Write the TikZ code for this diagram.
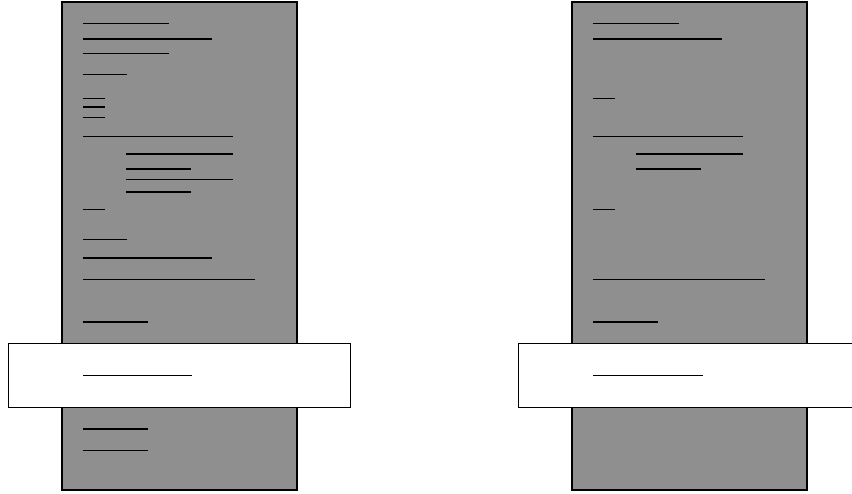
\documentclass[tikz,border=0pt]{standalone}
\definecolor{panelgray}{RGB}{143,143,143}
\tikzset{
  panel/.style={draw=black, fill=panelgray, line width=1.2pt},
  band/.style={draw=black, fill=white, line width=1.2pt},
  txtline/.style={draw=black, line width=1.1pt},
}
\begin{document}
\begin{tikzpicture}[x=1pt,y=-1pt]
\useasboundingbox (0,0) rectangle (852,493);
\clip (0,0) rectangle (852,493);
% ---------- left panel ----------
\draw[panel] (62,2) rectangle (297,490);
\foreach \y/\a/\b in {23.3/83/169, 39/83/212, 53.3/83/169, 74.7/83/127,
  98.3/83/105, 107/83/105, 117.3/83/105, 136.7/83/233,
  154/126/233, 169/126/191, 179.7/126/233, 192/126/191,
  209.3/83/105, 239.3/83/127, 258/83/212, 279.7/83/255, 322/83/148,
  344.2/83/226, 429/83/148, 450.3/83/148}
  \draw[txtline] (\a,\y) -- (\b,\y);
\draw[band] (8.5,343.5) rectangle (350.5,407.3);
\draw[txtline] (83,375.3) -- (192,375.3);
% ---------- right panel ----------
\draw[panel] (572,2) rectangle (807,490);
\foreach \y/\a/\b in {23.3/593/679, 39/593/722, 98.3/593/615, 136.7/593/743,
  154/636/743, 169/636/701, 209.3/593/615, 279.7/593/765, 322/593/658,
  344.2/593/737}
  \draw[txtline] (\a,\y) -- (\b,\y);
\draw[band] (518.5,343.5) rectangle (861,407.3);
\draw[txtline] (593,375.3) -- (703,375.3);
\end{tikzpicture}
\end{document}
